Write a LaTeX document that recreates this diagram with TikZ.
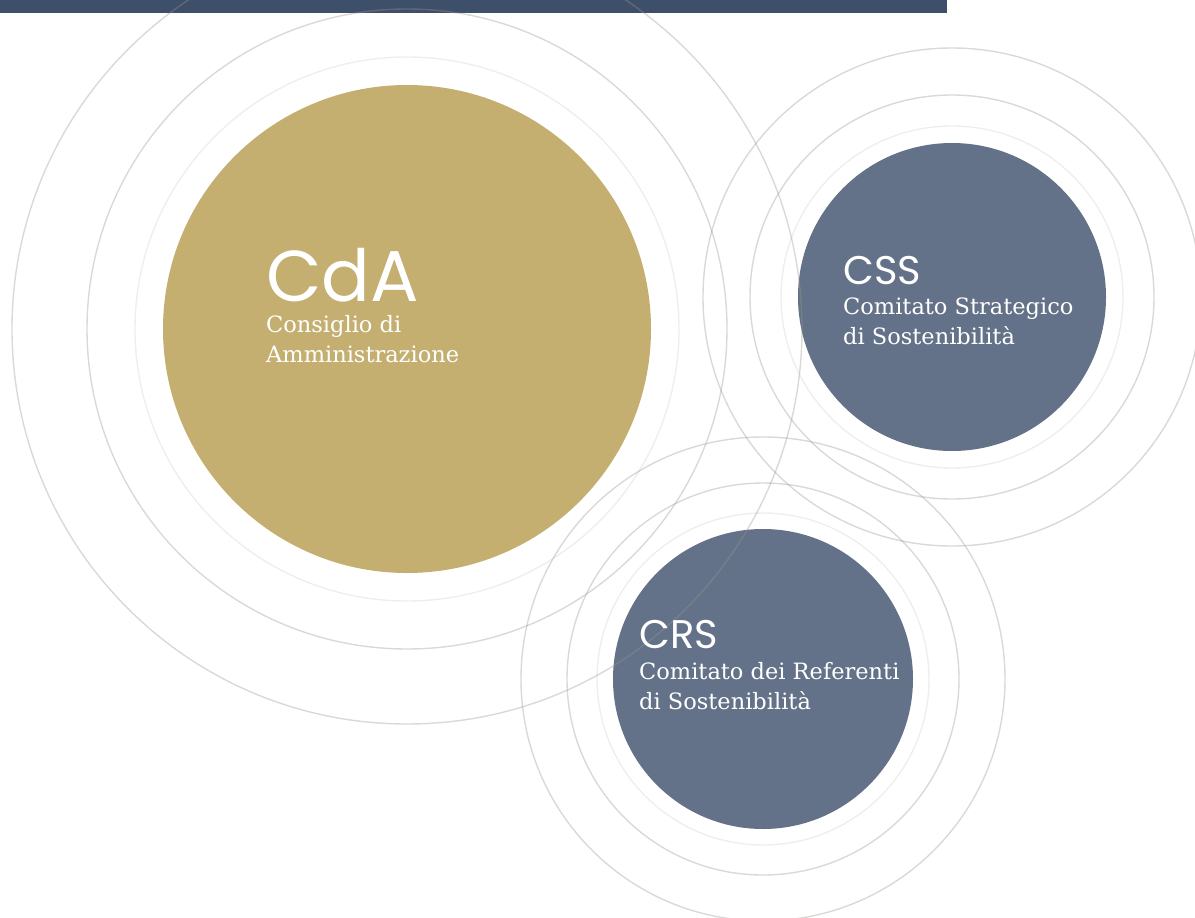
\documentclass[tikz,border=0pt]{standalone}
\usepackage{fontspec}
\setmainfont{DejaVu Serif}
\newfontfamily\headfont{Poppins}
\usetikzlibrary{positioning}
\definecolor{cdagold}{HTML}{C4AF71}
\definecolor{slateblue}{HTML}{637288}
\definecolor{topbar}{HTML}{3E4F6A}
\definecolor{ringgray}{HTML}{9A9590}
\tikzset{
	ring/.style={draw=ringgray, opacity=0.36, line width=1.4pt},
	faintring/.style={draw=ringgray, opacity=0.16, line width=1.4pt},
	headtext/.style={text=white, anchor=base west, inner sep=0pt},
	subtext/.style={text=white, anchor=base west, inner sep=0pt, align=left, font=\fontsize{22.5}{30}\selectfont},
}
\begin{document}
\begin{tikzpicture}[x=1pt,y=-1pt]
		\useasboundingbox (0,0) rectangle (1195,918);
		\fill[topbar] (0,0) rectangle (947,13);

		\node[circle, fill=cdagold, minimum size=488pt, inner sep=0pt] (cda) at (407,329) {};
		\node[circle, fill=slateblue, minimum size=308pt, inner sep=0pt] (css) at (952,297) {};
		\node[circle, fill=slateblue, minimum size=300pt, inner sep=0pt] (crs) at (763,679) {};

		\draw[ring] (cda.center) circle[radius=395pt];
		\draw[ring] (cda.center) circle[radius=320pt];
		\draw[faintring] (cda.center) circle[radius=272pt];
		\draw[ring] (css.center) circle[radius=249pt];
		\draw[ring] (css.center) circle[radius=202pt];
		\draw[faintring] (css.center) circle[radius=171pt];
		\draw[ring] (crs.center) circle[radius=242pt];
		\draw[ring] (crs.center) circle[radius=196pt];
		\draw[faintring] (crs.center) circle[radius=166pt];

		\node[headtext, font=\headfont\fontsize{72}{72}\selectfont] (cdahead) at (266,301) {CdA};
		\node[subtext] (cdasub) at (266,362) {Consiglio di\\Amministrazione};

		\node[headtext, font=\headfont\fontsize{40}{40}\selectfont] (csshead) at (843,284) {CSS};
		\node[subtext] (csssub) at (843,344) {Comitato Strategico\\di Sostenibilità};

		\node[headtext, font=\headfont\fontsize{40}{40}\selectfont] (crshead) at (639,648) {CRS};
		\node[subtext] (crssub) at (639,709) {Comitato dei Referenti\\di Sostenibilità};
	\end{tikzpicture}
\end{document}
